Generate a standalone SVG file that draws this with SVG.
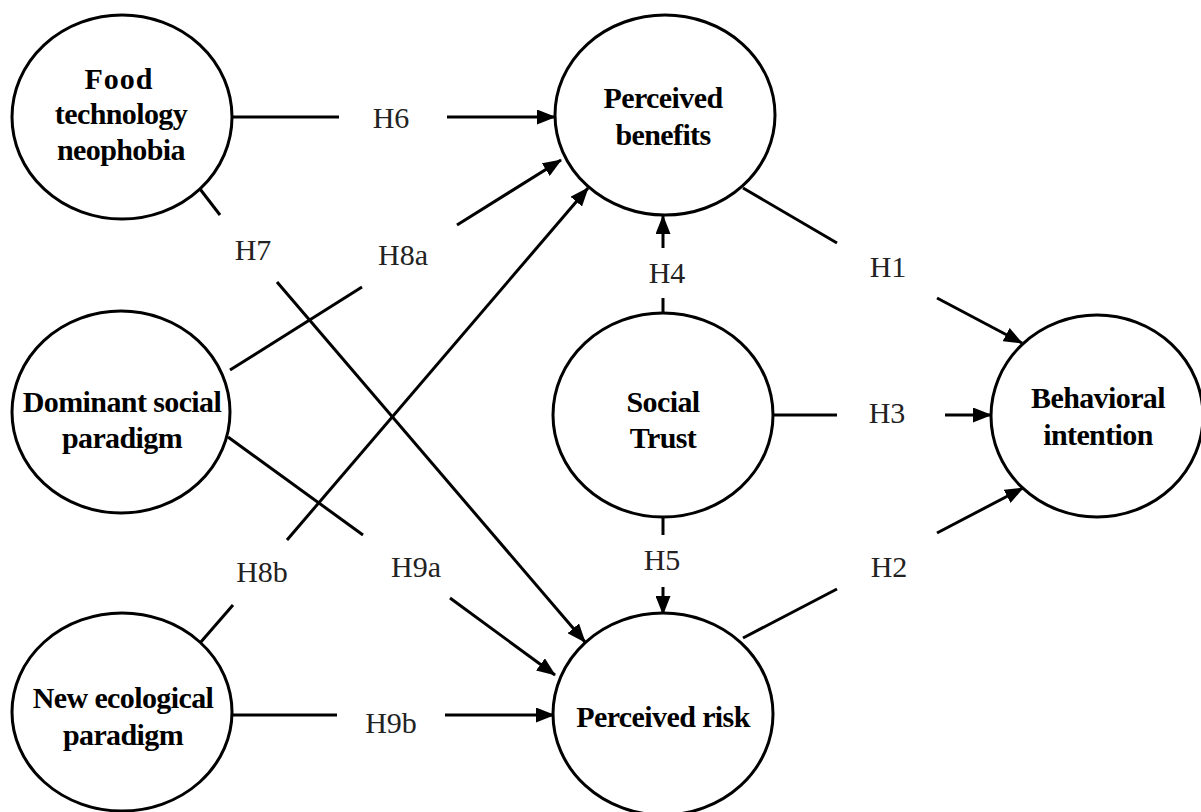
<svg xmlns="http://www.w3.org/2000/svg" width="1201" height="812" viewBox="0 0 1201 812">
<style>
.node{fill:#fff;stroke:#000;stroke-width:3}
.nt{font-family:"Liberation Serif","Times New Roman",serif;font-weight:bold;font-size:30px;letter-spacing:-0.6px;fill:#000;text-anchor:middle}
.lbl{font-family:"Liberation Serif","Times New Roman",serif;font-size:30px;fill:#222;text-anchor:middle}
.c line{stroke:#000;stroke-width:3}
</style>
<defs>
<marker id="ah" markerUnits="userSpaceOnUse" markerWidth="19" markerHeight="15" refX="18" refY="7.5" orient="auto">
<path d="M0,0 L19,7.5 L0,15 z" fill="#000"/>
</marker>
</defs>
<rect width="1201" height="812" fill="#fff"/>
<g class="c" id="connectors">
<line x1="232" y1="117" x2="339" y2="117"/>
<line x1="447" y1="117" x2="555" y2="117" marker-end="url(#ah)"/>
<line x1="200" y1="189" x2="220" y2="215"/>
<line x1="277" y1="282" x2="585" y2="642" marker-end="url(#ah)"/>
<line x1="230" y1="370" x2="362" y2="287"/>
<line x1="457" y1="225" x2="561" y2="160" marker-end="url(#ah)"/>
<line x1="200" y1="643" x2="233" y2="605"/>
<line x1="287" y1="540" x2="588" y2="188" marker-end="url(#ah)"/>
<line x1="228" y1="437" x2="363" y2="535"/>
<line x1="450" y1="598" x2="555" y2="675" marker-end="url(#ah)"/>
<line x1="232" y1="715" x2="337" y2="715"/>
<line x1="445" y1="715" x2="554" y2="715" marker-end="url(#ah)"/>
<line x1="663" y1="248" x2="663" y2="216" marker-end="url(#ah)"/>
<line x1="663" y1="313" x2="663" y2="298"/>
<line x1="663" y1="517" x2="663" y2="535"/>
<line x1="663" y1="587" x2="663" y2="614" marker-end="url(#ah)"/>
<line x1="743" y1="188" x2="837" y2="243"/>
<line x1="937" y1="298" x2="1022" y2="343" marker-end="url(#ah)"/>
<line x1="773" y1="415" x2="837" y2="415"/>
<line x1="945" y1="415" x2="991" y2="415" marker-end="url(#ah)"/>
<line x1="743" y1="638" x2="837" y2="589"/>
<line x1="937" y1="533" x2="1023" y2="488" marker-end="url(#ah)"/>
<text class="lbl" x="391" y="128">H6</text>
<text class="lbl" x="253" y="260">H7</text>
<text class="lbl" x="403" y="265">H8a</text>
<text class="lbl" x="262" y="582">H8b</text>
<text class="lbl" x="416" y="577">H9a</text>
<text class="lbl" x="391" y="733">H9b</text>
<text class="lbl" x="667" y="283">H4</text>
<text class="lbl" x="662" y="570">H5</text>
<text class="lbl" x="888" y="277">H1</text>
<text class="lbl" x="887" y="423">H3</text>
<text class="lbl" x="889" y="577">H2</text>
</g>
<g id="food-technology-neophobia">
<ellipse class="node" cx="122" cy="117" rx="110" ry="102"/>
<text class="nt" x="119" y="89" style="letter-spacing:1px">Food</text>
<text class="nt" x="121" y="124">technology</text>
<text class="nt" x="121" y="160">neophobia</text>
</g>
<g id="perceived-benefits">
<ellipse class="node" cx="665" cy="115" rx="110" ry="100"/>
<text class="nt" x="663" y="108">Perceived</text>
<text class="nt" x="663" y="145">benefits</text>
</g>
<g id="dominant-social-paradigm">
<ellipse class="node" cx="121" cy="412" rx="109" ry="101"/>
<text class="nt" x="122" y="412">Dominant social</text>
<text class="nt" x="122" y="448">paradigm</text>
</g>
<g id="social-trust">
<ellipse class="node" cx="663" cy="415" rx="110" ry="102"/>
<text class="nt" x="663" y="412">Social</text>
<text class="nt" x="663" y="448">Trust</text>
</g>
<g id="behavioral-intention">
<ellipse class="node" cx="1097" cy="416" rx="106" ry="101"/>
<text class="nt" x="1098" y="408">Behavioral</text>
<text class="nt" x="1098" y="445">intention</text>
</g>
<g id="new-ecological-paradigm">
<ellipse class="node" cx="122" cy="712" rx="110" ry="99"/>
<text class="nt" x="123" y="708">New ecological</text>
<text class="nt" x="123" y="745">paradigm</text>
</g>
<g id="perceived-risk">
<ellipse class="node" cx="663" cy="714" rx="110" ry="101"/>
<text class="nt" x="663" y="727">Perceived risk</text>
</g>
</svg>
